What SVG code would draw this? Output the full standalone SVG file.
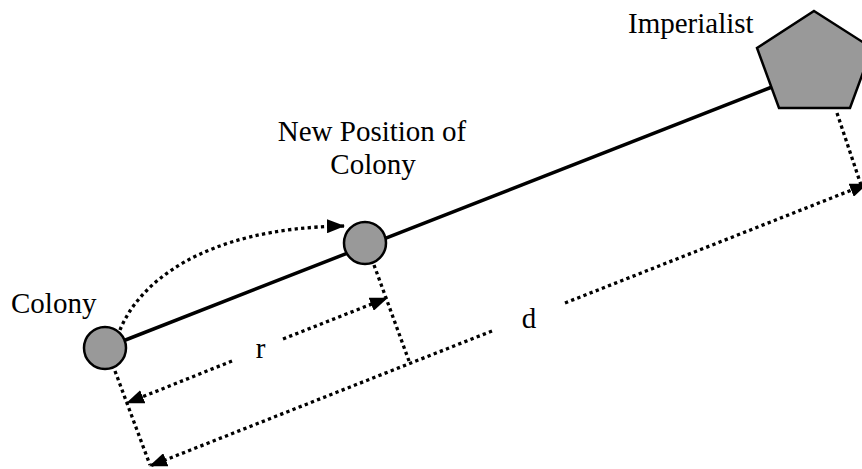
<svg xmlns="http://www.w3.org/2000/svg" width="862" height="469" viewBox="0 0 862 469">
  <style>
    .node { fill: #999999; stroke: #000000; stroke-width: 2.5; }
    .solid { fill: none; stroke: #000000; stroke-width: 3.5; }
    .dot { fill: none; stroke: #000000; stroke-width: 3.3; stroke-dasharray: 3.3 3.3; }
    .lbl { font-family: "Liberation Serif", "Times New Roman", serif; font-size: 29px; fill: #000000; }
  </style>
  <defs>
    <marker id="ah" markerUnits="userSpaceOnUse" markerWidth="18" markerHeight="14" refX="17" refY="7" orient="auto-start-reverse">
      <path d="M0,0 L18,7 L0,14 Z" fill="#000000"/>
    </marker>
  </defs>
  <rect width="862" height="469" fill="#ffffff"/>

  <g id="connectors">
    <!-- main line colony -> imperialist -->
    <line class="solid" x1="105" y1="348" x2="772" y2="87"/>
    <!-- curved movement arrow -->
    <path class="dot" d="M120,330 C138,285 200,228 344,226" marker-end="url(#ah)"/>
    <!-- perpendicular drops -->
    <line class="dot" x1="115" y1="371" x2="150" y2="465"/>
    <line class="dot" x1="374" y1="265" x2="409" y2="361"/>
    <line class="dot" x1="837" y1="113" x2="862" y2="188"/>
    <!-- r dimension -->
    <line class="dot" x1="232" y1="361" x2="127" y2="403" marker-end="url(#ah)"/>
    <line class="dot" x1="283" y1="339" x2="387" y2="298" marker-end="url(#ah)"/>
    <!-- d dimension -->
    <line class="dot" x1="492" y1="331" x2="150" y2="466" marker-end="url(#ah)"/>
    <line class="dot" x1="565" y1="303" x2="867" y2="184" marker-end="url(#ah)"/>
  </g>

  <g id="colony">
    <circle class="node" cx="105" cy="348" r="21"/>
    <text class="lbl" x="11" y="313">Colony</text>
  </g>

  <g id="new-position">
    <circle class="node" cx="365" cy="243" r="21"/>
    <text class="lbl" x="372" y="141" text-anchor="middle">New Position of</text>
    <text class="lbl" x="373" y="174" text-anchor="middle">Colony</text>
  </g>

  <g id="imperialist">
    <polygon class="node" points="814,11 872,48 850,108 779,108 757,48"/>
    <text class="lbl" x="628" y="33">Imperialist</text>
  </g>

  <g id="labels">
    <text class="lbl" x="260.5" y="358" text-anchor="middle">r</text>
    <text class="lbl" x="529" y="328" text-anchor="middle">d</text>
  </g>
</svg>
